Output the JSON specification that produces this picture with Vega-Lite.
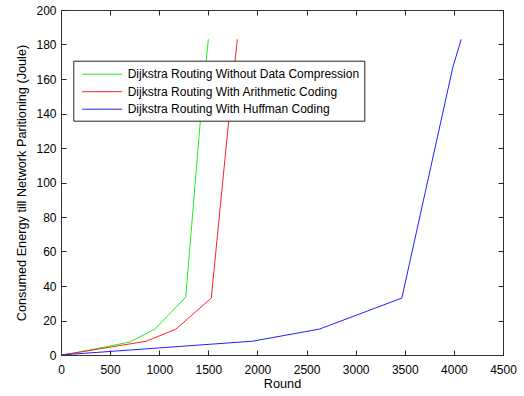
{
  "$schema": "https://vega.github.io/schema/vega-lite/v6.json",
  "width": 442,
  "height": 345,
  "autosize": {"type": "none"},
  "padding": {"left": 61, "top": 10, "right": 21, "bottom": 41},
  "background": "white",
  "config": {
    "font": "Liberation Sans",
    "view": {"stroke": "#333", "strokeWidth": 1},
    "axis": {
      "labelFont": "Liberation Sans",
      "labelFontSize": 12,
      "labelColor": "#000",
      "titleFont": "Liberation Sans",
      "titleFontSize": 12.7,
      "titleFontWeight": "normal",
      "titleColor": "#000",
      "domainColor": "#333",
      "domainWidth": 1,
      "ticks": false,
      "grid": true,
      "gridColor": "#222",
      "gridOpacity": 1,
      "gridWidth": 1,
      "format": "d"
    }
  },
  "data": {
    "values": [
      {"series": "Dijkstra Routing Without Data Compression", "round": 0, "energy": 0},
      {"series": "Dijkstra Routing Without Data Compression", "round": 120, "energy": 1},
      {"series": "Dijkstra Routing Without Data Compression", "round": 700, "energy": 7.5},
      {"series": "Dijkstra Routing Without Data Compression", "round": 955, "energy": 15},
      {"series": "Dijkstra Routing Without Data Compression", "round": 1270, "energy": 33.5},
      {"series": "Dijkstra Routing Without Data Compression", "round": 1425, "energy": 140},
      {"series": "Dijkstra Routing Without Data Compression", "round": 1500, "energy": 183},
      {"series": "Dijkstra Routing With Arithmetic Coding", "round": 0, "energy": 0},
      {"series": "Dijkstra Routing With Arithmetic Coding", "round": 120, "energy": 1},
      {"series": "Dijkstra Routing With Arithmetic Coding", "round": 870, "energy": 8},
      {"series": "Dijkstra Routing With Arithmetic Coding", "round": 1170, "energy": 15},
      {"series": "Dijkstra Routing With Arithmetic Coding", "round": 1530, "energy": 33},
      {"series": "Dijkstra Routing With Arithmetic Coding", "round": 1715, "energy": 140},
      {"series": "Dijkstra Routing With Arithmetic Coding", "round": 1795, "energy": 183},
      {"series": "Dijkstra Routing With Huffman Coding", "round": 0, "energy": 0},
      {"series": "Dijkstra Routing With Huffman Coding", "round": 120, "energy": 0.5},
      {"series": "Dijkstra Routing With Huffman Coding", "round": 1950, "energy": 8},
      {"series": "Dijkstra Routing With Huffman Coding", "round": 2630, "energy": 15},
      {"series": "Dijkstra Routing With Huffman Coding", "round": 3470, "energy": 33},
      {"series": "Dijkstra Routing With Huffman Coding", "round": 3990, "energy": 167},
      {"series": "Dijkstra Routing With Huffman Coding", "round": 4075, "energy": 183}
    ]
  },
  "mark": {"type": "line", "strokeWidth": 1, "clip": true},
  "encoding": {
    "x": {
      "field": "round", "type": "quantitative",
      "scale": {"domain": [0, 4500], "nice": false},
      "axis": {"values": [0,500,1000,1500,2000,2500,3000,3500,4000,4500], "title": "Round", "labelPadding": 9, "titlePadding": 2, "labelFlush": false, "gridDash": [5, 335, 5, 400]}
    },
    "y": {
      "field": "energy", "type": "quantitative",
      "scale": {"domain": [0, 200], "nice": false},
      "axis": {"values": [0,20,40,60,80,100,120,140,160,180,200], "title": "Consumed Energy till Network Paritioning (Joule)", "labelPadding": 5, "titlePadding": 7, "labelFlush": false, "gridDash": [5, 432, 5, 400]}
    },
    "color": {
      "field": "series", "type": "nominal",
      "sort": ["Dijkstra Routing Without Data Compression", "Dijkstra Routing With Arithmetic Coding", "Dijkstra Routing With Huffman Coding"],
      "scale": {
        "domain": ["Dijkstra Routing Without Data Compression", "Dijkstra Routing With Arithmetic Coding", "Dijkstra Routing With Huffman Coding"],
        "range": ["#22ee22", "#ff2020", "#2020ff"]
      },
      "legend": {
        "title": null,
        "orient": "none",
        "legendX": 12.3,
        "legendY": 50.7,
        "symbolType": "M-0.575,0H4.425",
        "symbolSize": 256,
        "symbolStrokeWidth": 1,
        "labelFontSize": 12,
        "labelFont": "Liberation Sans",
        "labelColor": "#000",
        "labelLimit": 0,
        "labelOffset": 32.4,
        "rowPadding": 2.5,
        "padding": 5,
        "strokeColor": "#222",
        "fillColor": "white"
      }
    }
  }
}
